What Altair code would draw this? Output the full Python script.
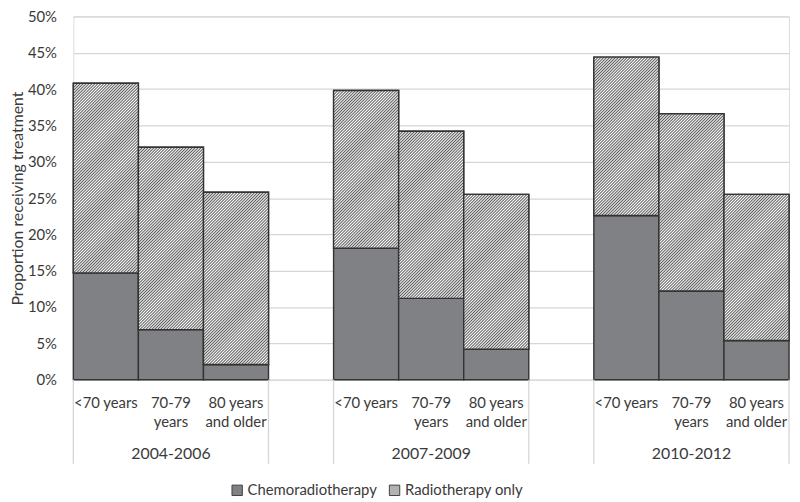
import math
import altair as alt
import pandas as pd

# ---- data ----
periods = ["2004-2006", "2007-2009", "2010-2012"]
age_groups = ["<70 years", "70-79\nyears", "80 years\nand older"]
series = ["Chemoradiotherapy", "Radiotherapy only"]
chemoradiotherapy = [14.7, 6.9, 2.1, 18.1, 11.2, 4.2, 22.6, 12.2, 5.4]
radiotherapy_only = [26.1, 25.1, 23.7, 21.7, 23.0, 21.3, 21.8, 24.4, 20.1]
y_ticks = [0, 5, 10, 15, 20, 25, 30, 35, 40, 45, 50]

# category slots (Excel-style axis with one empty slot between periods)
slots = [f"s{i}" for i in range(11)]
bar_slots = ["s0", "s1", "s2", "s4", "s5", "s6", "s8", "s9", "s10"]
period_slots = ["s1", "s5", "s9"]
sep_start_slots = ["s0", "s3", "s4", "s7", "s8"]
sep_end_slots = ["s10"]

W, H = 723, 367
bar_w = W / len(slots)
px_per_unit = H / 50.0

FONT = "Lato"
TXT = "#3a3a3a"
GRID = "#d6d6d6"
EDGE = "#333333"

rows = []
for i, slot in enumerate(bar_slots):
    c = chemoradiotherapy[i]
    r = radiotherapy_only[i]
    rows.append({"slot": slot, "series": series[0], "y0": 0.0, "y1": c})
    rows.append({"slot": slot, "series": series[1], "y0": c, "y1": c + r})
df = pd.DataFrame(rows)

age_df = pd.DataFrame({"slot": bar_slots,
                       "label": [age_groups[i % 3] for i in range(len(bar_slots))]})
period_df = pd.DataFrame({"slot": period_slots, "label": periods})
sep_start_df = pd.DataFrame({"slot": sep_start_slots})
sep_end_df = pd.DataFrame({"slot": sep_end_slots})

xscale = alt.Scale(domain=slots, paddingInner=0, paddingOuter=0)
xenc = alt.X("slot:N", scale=xscale, axis=None)
yscale = alt.Scale(domain=[0, 50], nice=False, zero=True)
yaxis = alt.Axis(values=y_ticks, labelExpr="datum.value + '%'",
                 title="Proportion receiving treatment", grid=True,
                 gridColor=GRID, gridWidth=1.3, domain=False, ticks=False,
                 tickSize=0, labelPadding=17, labelFontSize=15,
                 labelColor=TXT, labelFont=FONT, titleFont=FONT,
                 titleFontSize=16, titleFontWeight="normal", titleColor=TXT,
                 titlePadding=2)


def hatch(w, h, period=2.1, dark="#5c5c5c", light="#ffffff"):
    """Diagonal '/' hatch as a striped linear gradient for a w x h box."""
    n = (w * w + h * h) / (w * period * math.sqrt(2))
    stops = []
    k = 0
    while True:
        off = k / (2 * n)
        if off >= 1:
            stops.append({"offset": 1, "color": light if k % 2 == 0 else dark})
            break
        stops.append({"offset": off, "color": light if k % 2 == 0 else dark})
        k += 1
    return {"gradient": "linear", "x1": 0, "y1": 0, "x2": 1, "y2": h / w,
            "stops": stops}


base = alt.Chart(df).mark_bar(stroke=EDGE, strokeWidth=1.4).encode(
    x=xenc,
    y=alt.Y("y0:Q", scale=yscale, axis=yaxis),
    y2="y1:Q",
    color=alt.Color("series:N",
                    scale=alt.Scale(domain=series, range=["#808184", "#b2b2b2"]),
                    legend=alt.Legend(orient="none", direction="horizontal",
                                      legendX=158, legendY=H + 104, title=None,
                                      symbolType="square", symbolSize=110,
                                      symbolStrokeColor="#404040",
                                      symbolStrokeWidth=1, labelFontSize=15,
                                      labelFont=FONT, labelColor=TXT,
                                      labelOffset=3, columnPadding=10)),
)

layers = [base]
for i, slot in enumerate(bar_slots):
    g = hatch(bar_w, radiotherapy_only[i] * px_per_unit)
    layers.append(
        alt.Chart(df).transform_filter(
            (alt.datum.slot == slot) & (alt.datum.series == series[1])
        ).mark_bar(fill=g, stroke=EDGE, strokeWidth=1.4).encode(
            x=xenc, y=alt.Y("y0:Q", scale=yscale, axis=yaxis), y2="y1:Q")
    )

age_text = alt.Chart(age_df).mark_text(
    font=FONT, fontSize=15, color=TXT, baseline="alphabetic",
    lineBreak="\n", lineHeight=19
).encode(x=xenc, y=alt.value(H + 29), text="label:N")

period_text = alt.Chart(period_df).mark_text(
    font=FONT, fontSize=16, color=TXT, baseline="alphabetic"
).encode(x=xenc, y=alt.value(H + 80), text="label:N")

sep_a = alt.Chart(sep_start_df).mark_rule(color=GRID, strokeWidth=1.3).encode(
    x=alt.X("slot:N", scale=xscale, axis=None, bandPosition=0),
    y=alt.value(H), y2=alt.value(H + 85))
sep_b = alt.Chart(sep_end_df).mark_rule(color=GRID, strokeWidth=1.3).encode(
    x=alt.X("slot:N", scale=xscale, axis=None, bandPosition=1),
    y=alt.value(H), y2=alt.value(H + 85))

chart = alt.layer(*layers, sep_a, sep_b, age_text, period_text).properties(
    width=W, height=H,
    autosize=alt.AutoSizeParams(type="none"),
    padding={"left": 66, "top": 6, "right": 3, "bottom": 117},
).configure_view(stroke=None).configure(font=FONT)

chart.save("out.html", embed_options={"renderer": "svg", "actions": False})
